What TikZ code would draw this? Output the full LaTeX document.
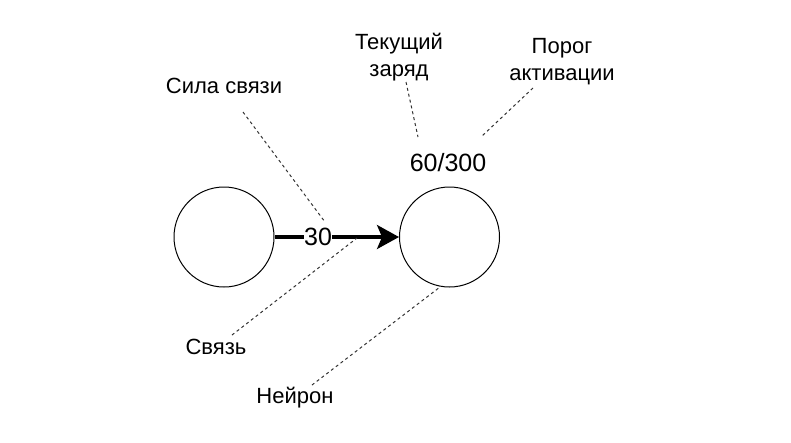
\documentclass[tikz,border=0pt]{standalone}
\usepackage{fontspec}
\setmainfont{Liberation Sans}
\usetikzlibrary{arrows.meta}
\tikzset{
  neuron/.style={circle, draw=black, line width=1pt, minimum size=100pt, inner sep=0pt},
  lbl/.style={font=\fontsize{22}{27}\selectfont, align=center, inner sep=0pt},
  big/.style={font=\fontsize{25}{30}\selectfont, inner sep=0.5pt},
  link/.style={line width=3.2pt, -{Stealth[length=22pt, width=24pt, inset=5pt]}},
  pointer/.style={draw=black!80, line width=1pt, dash pattern=on 3pt off 3pt}
}
\begin{document}
\begin{tikzpicture}[x=1pt, y=-1pt]
\useasboundingbox (0,0) rectangle (791,442);
\node[neuron] (n1) at (224,237) {};
\node[neuron] (n2) at (449.5,237) {};
\draw[link] (n1) -- node[big, fill=white, pos=0.35] (w) {30} (n2);
\node[big] (charge) at (448,163) {60/300};
\node[lbl] (strength) at (224,86) {Сила связи};
\node[lbl] (current) at (399,57) {Текущий\\заряд};
\node[lbl] (threshold) at (562,62) {Порог\\активации};
\node[lbl] (conn) at (216,347) {Связь};
\node[lbl] (neu) at (295,398) {Нейрон};
\coordinate (s1) at (243,112);
\coordinate (s2) at (325,222);
\coordinate (c1) at (406,82);
\coordinate (c2) at (418,137);
\coordinate (t1) at (533,88);
\coordinate (t2) at (481,137);
\coordinate (b1) at (232,335);
\coordinate (b2) at (357,238);
\coordinate (e1) at (312,385);
\coordinate (e2) at (440,287);
\draw[pointer] (s1) -- (s2);
\draw[pointer] (c1) -- (c2);
\draw[pointer] (t1) -- (t2);
\draw[pointer] (b1) -- (b2);
\draw[pointer] (e1) -- (e2);
\end{tikzpicture}
\end{document}
